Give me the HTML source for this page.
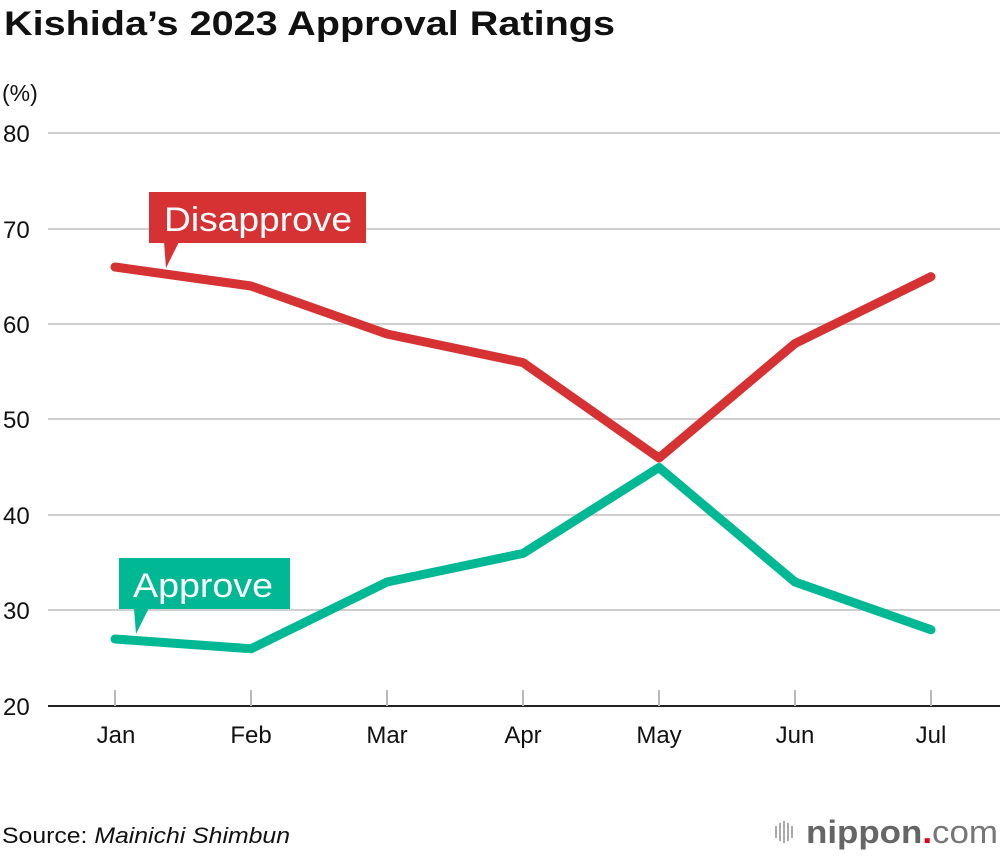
<!DOCTYPE html>
<html><head><meta charset="utf-8"><style>
body{margin:0;background:#fff;}
svg{display:block;font-family:"Liberation Sans",Arial,sans-serif;}
</style></head><body>
<svg width="1000" height="856" viewBox="0 0 1000 856">
<text x="4" y="35" font-size="34" font-weight="bold" fill="#111" textLength="611" lengthAdjust="spacingAndGlyphs">Kishida’s 2023 Approval Ratings</text>
<text x="2" y="101" font-size="23" fill="#111">(%)</text>
<g stroke="#cfcfcf" stroke-width="2">
<line x1="48" x2="1000" y1="133" y2="133"/>
<line x1="48" x2="1000" y1="229" y2="229"/>
<line x1="48" x2="1000" y1="324" y2="324"/>
<line x1="48" x2="1000" y1="419" y2="419"/>
<line x1="48" x2="1000" y1="515" y2="515"/>
<line x1="48" x2="1000" y1="610" y2="610"/>
</g>
<line x1="48" x2="1000" y1="706" y2="706" stroke="#222" stroke-width="2"/>
<g stroke="#bbb" stroke-width="2">
<line x1="115" x2="115" y1="690" y2="706"/><line x1="251" x2="251" y1="690" y2="706"/>
<line x1="387" x2="387" y1="690" y2="706"/><line x1="523" x2="523" y1="690" y2="706"/>
<line x1="659" x2="659" y1="690" y2="706"/><line x1="795" x2="795" y1="690" y2="706"/>
<line x1="931" x2="931" y1="690" y2="706"/>
</g>
<g font-size="24" fill="#111">
<text x="3" y="142">80</text><text x="3" y="238">70</text><text x="3" y="333">60</text>
<text x="3" y="428">50</text><text x="3" y="524">40</text><text x="3" y="619">30</text><text x="3" y="715">20</text>
</g>
<g font-size="24" fill="#111" text-anchor="middle">
<text x="116" y="743">Jan</text><text x="251" y="743">Feb</text><text x="387" y="743">Mar</text>
<text x="523" y="743">Apr</text><text x="659" y="743">May</text><text x="795" y="743">Jun</text><text x="931" y="743">Jul</text>
</g>
<polyline points="115,267 251,286 387,334 523,362.6 659,458 795,343.5 931,276.7" fill="none" stroke="#d63233" stroke-width="9" stroke-linecap="round" stroke-linejoin="round"/>
<polyline points="115,639 251,648.8 387,582 523,553.4 659,467.5 795,582 931,629.7" fill="none" stroke="#00b894" stroke-width="9" stroke-linecap="round" stroke-linejoin="round"/>
<rect x="149" y="192" width="217" height="51" fill="#d63233"/>
<polygon points="164,242 179,242 166,268" fill="#d63233"/>
<text x="164" y="231" font-size="34" fill="#fff" textLength="188" lengthAdjust="spacingAndGlyphs">Disapprove</text>
<rect x="119" y="558" width="171" height="51" fill="#00b894"/>
<polygon points="134,608 149,608 136,634" fill="#00b894"/>
<text x="133" y="597" font-size="34" fill="#fff" textLength="140" lengthAdjust="spacingAndGlyphs">Approve</text>
<text x="2" y="843" font-size="22" fill="#111" textLength="288" lengthAdjust="spacingAndGlyphs">Source: <tspan font-style="italic">Mainichi Shimbun</tspan></text>
<g fill="#aaa">
<rect x="775" y="826" width="2" height="12"/><rect x="779" y="823" width="2" height="18"/>
<rect x="783" y="821" width="2" height="22"/><rect x="787" y="823" width="2" height="18"/>
<rect x="791" y="826" width="2" height="12"/>
</g>
<text x="806" y="843" font-size="32" font-weight="bold" fill="#666" textLength="192" lengthAdjust="spacingAndGlyphs">nippon<tspan fill="#e60012">.</tspan><tspan font-weight="normal" fill="#777">com</tspan></text>
</svg>
</body></html>
